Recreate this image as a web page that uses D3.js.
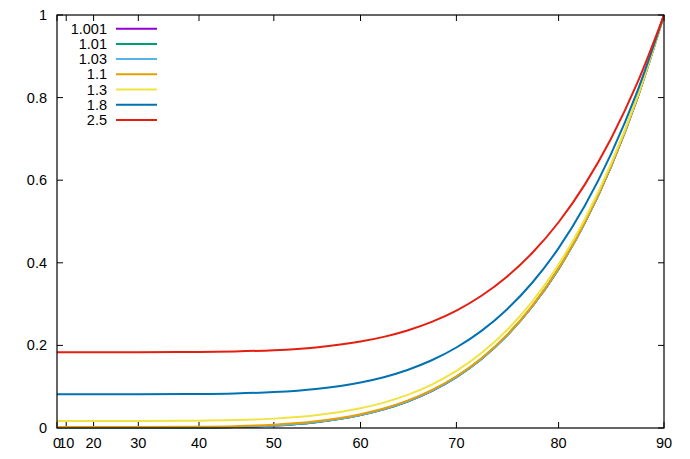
<!DOCTYPE html>
<html><head><meta charset="utf-8">
<script src="https://cdn.jsdelivr.net/npm/d3@7"></script>
<style>body{margin:0;background:#fff}svg{display:block}text{font-family:"Liberation Sans",Arial,sans-serif;font-size:14.5px;fill:#000}</style>
</head><body>
<svg id="c" width="690" height="459"></svg>
<script>
const angles = [0,10,20,30,40,45,50,55,60,62.5,65,67.5,70,72.5,75,77.5,80,82.5,85,87.5,90];
const labels = ["1.001","1.01","1.03","1.1","1.3","1.8","2.5"];
const colors = ["#9400d3","#009e73","#56b4e9","#e69f00","#f0e442","#0072b2","#e51e10"];
const s1001 = [0,0,0,0,0.0007,0.0022,0.0058,0.0141,0.0313,0.0452,0.0642,0.0896,0.1233,0.1672,0.2237,0.2954,0.3853,0.4969,0.6338,0.8001,1];
const s101  = [0,0,0,0.0001,0.0007,0.0022,0.0058,0.0141,0.0313,0.0452,0.0642,0.0897,0.1233,0.1672,0.2237,0.2954,0.3853,0.4969,0.6338,0.8001,1];
const s103  = [0.0002,0.0002,0.0002,0.0003,0.0009,0.0024,0.0060,0.0143,0.0315,0.0454,0.0644,0.0898,0.1235,0.1674,0.2239,0.2955,0.3854,0.4970,0.6339,0.8001,1];
const s11   = [0.0023,0.0023,0.0023,0.0023,0.0030,0.0044,0.0081,0.0163,0.0334,0.0473,0.0663,0.0917,0.1253,0.1691,0.2254,0.2970,0.3867,0.4981,0.6347,0.8006,1];
const s13   = [0.0170,0.0170,0.0170,0.0171,0.0177,0.0191,0.0227,0.0309,0.0477,0.0614,0.0801,0.1051,0.1382,0.1814,0.2369,0.3074,0.3958,0.5055,0.6401,0.8035,1];
const s18   = [0.0816,0.0816,0.0816,0.0817,0.0823,0.0836,0.0870,0.0946,0.1103,0.1231,0.1406,0.1640,0.1949,0.2352,0.2871,0.3529,0.4355,0.5380,0.6637,0.8164,1];
const s25   = [0.1837,0.1837,0.1837,0.1837,0.1842,0.1854,0.1884,0.1952,0.2092,0.2206,0.2361,0.2569,0.2843,0.3202,0.3663,0.4248,0.4982,0.5893,0.7011,0.8368,1];
const series = [s1001,s101,s103,s11,s13,s18,s25];
const xTicks = [0,10,20,30,40,50,60,70,80,90];
const yTicks = [0,0.2,0.4,0.6,0.8,1];

const L=57,R=664,T=15,B=428;
const svg=d3.select("#c");
const toU = a => 1-Math.cos(a*Math.PI/180);
const xs=d3.scaleLinear().domain([0,1]).range([L,R]);
const ys=d3.scaleLinear().domain([0,1]).range([B,T]);
const tl=6;
const g=svg.append("g");
xTicks.forEach(t=>{
  const x=xs(toU(t));
  g.append("line").attr("x1",x).attr("x2",x).attr("y1",B).attr("y2",B-tl).attr("stroke","#000");
  g.append("line").attr("x1",x).attr("x2",x).attr("y1",T).attr("y2",T+tl).attr("stroke","#000");
  g.append("text").attr("x",x).attr("y",B+19.5).attr("text-anchor","middle").text(t);
});
yTicks.forEach(t=>{
  const y=ys(t);
  g.append("line").attr("x1",L).attr("x2",L+tl).attr("y1",y).attr("y2",y).attr("stroke","#000");
  g.append("line").attr("x1",R).attr("x2",R-tl).attr("y1",y).attr("y2",y).attr("stroke","#000");
  g.append("text").attr("x",L-10).attr("y",y+5).attr("text-anchor","end").text(t);
});
const line=d3.line().x((d,i)=>xs(toU(angles[i]))).y(d=>ys(d)).curve(d3.curveMonotoneX);
series.forEach((s,k)=>{
  svg.append("path").attr("d",line(s)).attr("fill","none").attr("stroke",colors[k]).attr("stroke-width",2);
});
svg.append("rect").attr("x",L).attr("y",T).attr("width",R-L).attr("height",B-T).attr("fill","none").attr("stroke","#000").attr("stroke-width",1.2);
labels.forEach((lab,k)=>{
  const y=28.7+k*15.2;
  svg.append("text").attr("x",107).attr("y",y+5).attr("text-anchor","end").text(lab);
  svg.append("line").attr("x1",116).attr("x2",157).attr("y1",y).attr("y2",y).attr("stroke",colors[k]).attr("stroke-width",2);
});
</script>
</body></html>
